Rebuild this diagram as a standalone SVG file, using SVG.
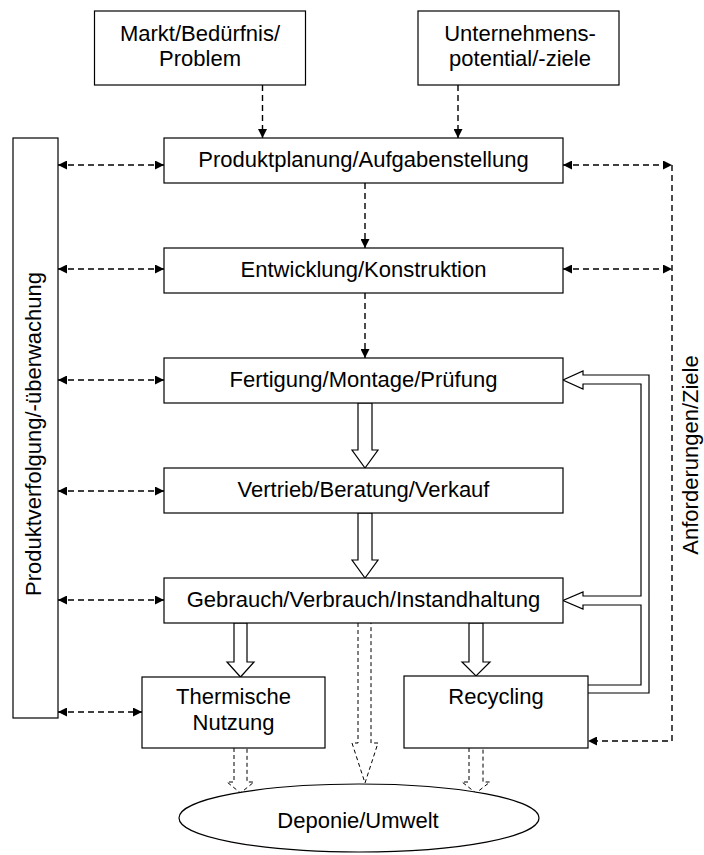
<svg xmlns="http://www.w3.org/2000/svg" width="704" height="855" viewBox="0 0 704 855">
<style>
.box{fill:#fff;stroke:#000;stroke-width:1.2}
.t{font-family:"Liberation Sans",Arial,sans-serif;font-size:22px;fill:#000;text-anchor:middle}
.d{fill:none;stroke:#000;stroke-width:1.4;stroke-dasharray:6,4}
.dh{fill:#fff;stroke:#000;stroke-width:1;stroke-dasharray:4,3}
.h{fill:#fff;stroke:#000;stroke-width:1.2;stroke-linejoin:miter}
</style>
<defs>
<marker id="ah" markerUnits="userSpaceOnUse" markerWidth="10" markerHeight="9" refX="9" refY="4.5" orient="auto-start-reverse">
<path d="M0,0 L9,4.5 L0,9 z" fill="#000"/>
</marker>
</defs>

<g id="connectors">
<line class="d" x1="262.5" y1="85" x2="262.5" y2="138" marker-end="url(#ah)"/>
<line class="d" x1="458" y1="85" x2="458" y2="138" marker-end="url(#ah)"/>
<line class="d" x1="365" y1="183" x2="365" y2="248" marker-end="url(#ah)"/>
<line class="d" x1="365" y1="293" x2="365" y2="358" marker-end="url(#ah)"/>
<line class="d" x1="58" y1="165" x2="164" y2="165" marker-start="url(#ah)" marker-end="url(#ah)"/>
<line class="d" x1="58" y1="269" x2="164" y2="269" marker-start="url(#ah)" marker-end="url(#ah)"/>
<line class="d" x1="58" y1="380" x2="164" y2="380" marker-start="url(#ah)" marker-end="url(#ah)"/>
<line class="d" x1="58" y1="491" x2="164" y2="491" marker-start="url(#ah)" marker-end="url(#ah)"/>
<line class="d" x1="58" y1="600" x2="164" y2="600" marker-start="url(#ah)" marker-end="url(#ah)"/>
<line class="d" x1="58" y1="712" x2="142" y2="712" marker-start="url(#ah)" marker-end="url(#ah)"/>
<line class="d" x1="563" y1="165" x2="672" y2="165" marker-start="url(#ah)" marker-end="url(#ah)"/>
<line class="d" x1="563" y1="269" x2="672" y2="269" marker-start="url(#ah)" marker-end="url(#ah)"/>
<polyline class="d" points="672,165 672,741 588,741" marker-end="url(#ah)"/>
<polygon class="h" points="358,403 358,450 352,450 365,468 378,450 372,450 372,403"/>
<polygon class="h" points="358,513 358,560 352,560 365,578 378,560 372,560 372,513"/>
<polygon class="h" points="234,623 234,662 227,662 240.5,677 254,662 247,662 247,623"/>
<polygon class="h" points="469,623 469,662 462,662 476,676 490,662 483,662 483,623"/>
<path class="h" d="M588,693 L649,693 L649,375 L583,375 L583,371 L563,380 L583,389 L583,384 L641,384 L641,596 L583,596 L583,592 L563,600.5 L583,609 L583,605 L641,605 L641,685 L588,685"/>
<polyline class="dh" points="358,623 358,743 352,743 365,783 378,743 371,743 371,623"/>
<polyline class="dh" points="234,748 234,782 227,782 240.5,793 254,782 247,782 247,748"/>
<polyline class="dh" points="469,748 469,782 462,782 476,793 490,782 483,782 483,748"/>
</g>

<g id="markt">
<rect class="box" x="94.5" y="11" width="211" height="74"/>
<text class="t" x="200" y="41">Markt/Bedürfnis/</text>
<text class="t" x="200" y="66">Problem</text>
</g>
<g id="unternehmen">
<rect class="box" x="418" y="11" width="201" height="74"/>
<text class="t" x="520" y="41">Unternehmens-</text>
<text class="t" x="520" y="66">potential/-ziele</text>
</g>
<g id="produktverfolgung">
<rect class="box" x="13" y="138" width="45" height="580"/>
<text class="t" transform="translate(41,434) rotate(-90)">Produktverfolgung/-überwachung</text>
</g>
<g id="produktplanung">
<rect class="box" x="164" y="138" width="399" height="45"/>
<text class="t" x="363.5" y="167">Produktplanung/Aufgabenstellung</text>
</g>
<g id="entwicklung">
<rect class="box" x="164" y="248" width="399" height="45"/>
<text class="t" x="363.5" y="277">Entwicklung/Konstruktion</text>
</g>
<g id="fertigung">
<rect class="box" x="164" y="358" width="399" height="45"/>
<text class="t" x="363.5" y="387">Fertigung/Montage/Prüfung</text>
</g>
<g id="vertrieb">
<rect class="box" x="164" y="468" width="399" height="45"/>
<text class="t" x="363.5" y="497">Vertrieb/Beratung/Verkauf</text>
</g>
<g id="gebrauch">
<rect class="box" x="164" y="578" width="399" height="45"/>
<text class="t" x="363.5" y="607">Gebrauch/Verbrauch/Instandhaltung</text>
</g>
<g id="thermische">
<rect class="box" x="142" y="677" width="183" height="71"/>
<text class="t" x="233.5" y="704">Thermische</text>
<text class="t" x="233.5" y="730">Nutzung</text>
</g>
<g id="recycling">
<rect class="box" x="404" y="676" width="184" height="72"/>
<text class="t" x="496" y="704">Recycling</text>
</g>
<g id="deponie">
<ellipse class="box" cx="359" cy="818" rx="180" ry="34"/>
<text class="t" x="358" y="828">Deponie/Umwelt</text>
</g>
<g id="anforderungen">
<text class="t" transform="translate(698,455) rotate(-90)">Anforderungen/Ziele</text>
</g>
</svg>
